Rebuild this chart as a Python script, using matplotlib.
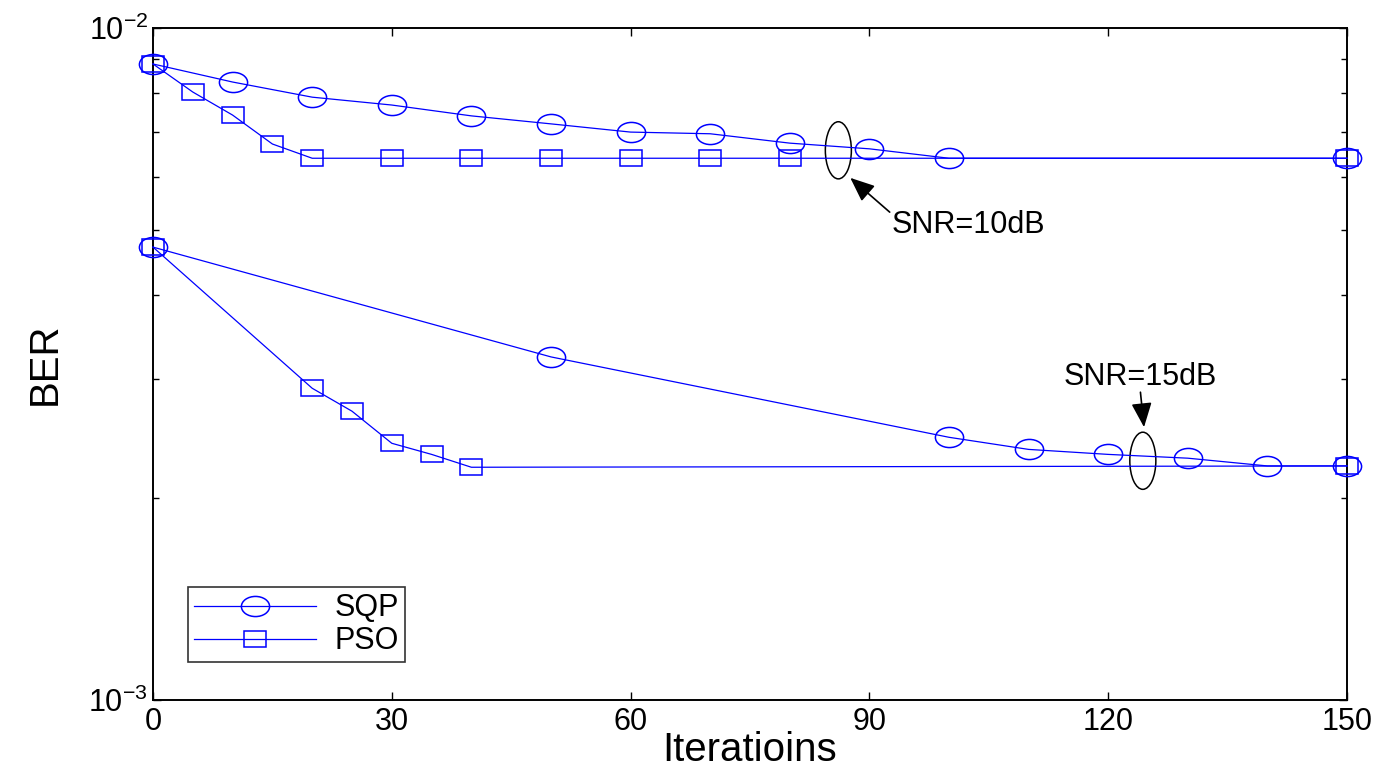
import matplotlib
matplotlib.use('Agg')
import matplotlib.pyplot as plt
from matplotlib.markers import MarkerStyle
from matplotlib.patches import Ellipse
from matplotlib.transforms import Affine2D
from matplotlib.ticker import NullFormatter, FixedLocator

plt.rcParams['font.family'] = ['Liberation Sans', 'DejaVu Sans']
plt.rcParams['mathtext.fontset'] = 'custom'
plt.rcParams['mathtext.rm'] = 'Liberation Sans'
plt.rcParams['mathtext.it'] = 'Liberation Sans'

# SNR = 10 dB
sqp10_x = [0, 10, 20, 30, 40, 50, 60, 70, 80, 90, 100, 150]
sqp10_y = [0.00884, 0.00831, 0.00789, 0.00768, 0.00740, 0.00720,
           0.00700, 0.00696, 0.00674, 0.00661, 0.00640, 0.00640]
pso10_x = [0, 5, 10, 15, 20, 30, 40, 50, 60, 70, 80, 150]
pso10_y = [0.00884, 0.00803, 0.00742, 0.00672, 0.00640, 0.00640,
           0.00640, 0.00640, 0.00640, 0.00640, 0.00640, 0.00640]

# SNR = 15 dB
sqp15_x = [0, 50, 100, 110, 120, 130, 140, 150]
sqp15_y = [0.00472, 0.00324, 0.00246, 0.00236, 0.00232, 0.00229, 0.00223, 0.00223]
pso15_x = [0, 20, 25, 30, 35, 40, 150]
pso15_y = [0.00472, 0.00291, 0.00269, 0.00241, 0.00232, 0.00222, 0.00223]

x_ticks = [0, 30, 60, 90, 120, 150]

blue = '#0000ff'
circ = MarkerStyle('o', fillstyle='none', transform=Affine2D().scale(1.4, 1.0))
sqr = MarkerStyle('s', fillstyle='none', transform=Affine2D().scale(1.4, 1.0))

fig = plt.figure(figsize=(13.77, 7.68), dpi=100)
ax = fig.add_axes([153 / 1377, 68 / 768, 1194 / 1377, 672 / 768])

line_kw = dict(color=blue, lw=0.9, markeredgewidth=1.1, markerfacecolor='none',
               clip_on=False, zorder=3)
ax.plot(sqp10_x, sqp10_y, marker=circ, markersize=14.5, label='SQP', **line_kw)
ax.plot(pso10_x, pso10_y, marker=sqr, markersize=11, label='PSO', **line_kw)
ax.plot(sqp15_x, sqp15_y, marker=circ, markersize=14.5, **line_kw)
ax.plot(pso15_x, pso15_y, marker=sqr, markersize=11, **line_kw)

ax.set_yscale('log')
ax.set_xlim(0, 150)
ax.set_ylim(1e-3, 1e-2)
ax.xaxis.set_major_locator(FixedLocator(x_ticks))
ax.yaxis.set_minor_formatter(NullFormatter())
ax.tick_params(which='both', direction='in', top=True, right=True, labelsize=22)
ax.tick_params(which='major', length=6, width=1)
ax.tick_params(which='minor', length=4, width=1)
ax.tick_params(axis='x', pad=5)
for s in ax.spines.values():
    s.set_linewidth(1.4)

ax.set_xlabel('Iteratioins', fontsize=29, labelpad=-4)
ax.set_ylabel('BER', fontsize=29, labelpad=18)

# group markers
ax.add_patch(Ellipse((0.574, 0.818), 0.0218, 0.085, transform=ax.transAxes,
                     fill=False, ec='k', lw=1.1))
ax.add_patch(Ellipse((0.829, 0.356), 0.0218, 0.085, transform=ax.transAxes,
                     fill=False, ec='k', lw=1.1))

arrow = dict(arrowstyle='-|>,head_length=1.0,head_width=0.42', color='k', lw=1.2,
             shrinkA=0, shrinkB=0, mutation_scale=15)
ax.annotate('', xy=(0.584, 0.777), xytext=(0.617, 0.726),
            xycoords='axes fraction', arrowprops=arrow)
ax.text(0.619, 0.707, 'SNR=10dB', transform=ax.transAxes, fontsize=22,
        ha='left', va='center')
ax.annotate('', xy=(0.830, 0.406), xytext=(0.827, 0.458),
            xycoords='axes fraction', arrowprops=arrow)
ax.text(0.827, 0.480, 'SNR=15dB', transform=ax.transAxes, fontsize=22,
        ha='center', va='center')

leg = ax.legend(loc='lower left', bbox_to_anchor=(0.029, 0.056), fontsize=22,
                frameon=True, fancybox=False, edgecolor='k', handlelength=4.0,
                borderpad=0.2, labelspacing=0.1, handletextpad=0.6,
                borderaxespad=0)
leg.get_frame().set_linewidth(1.2)

fig.savefig('out.png', dpi=100)
